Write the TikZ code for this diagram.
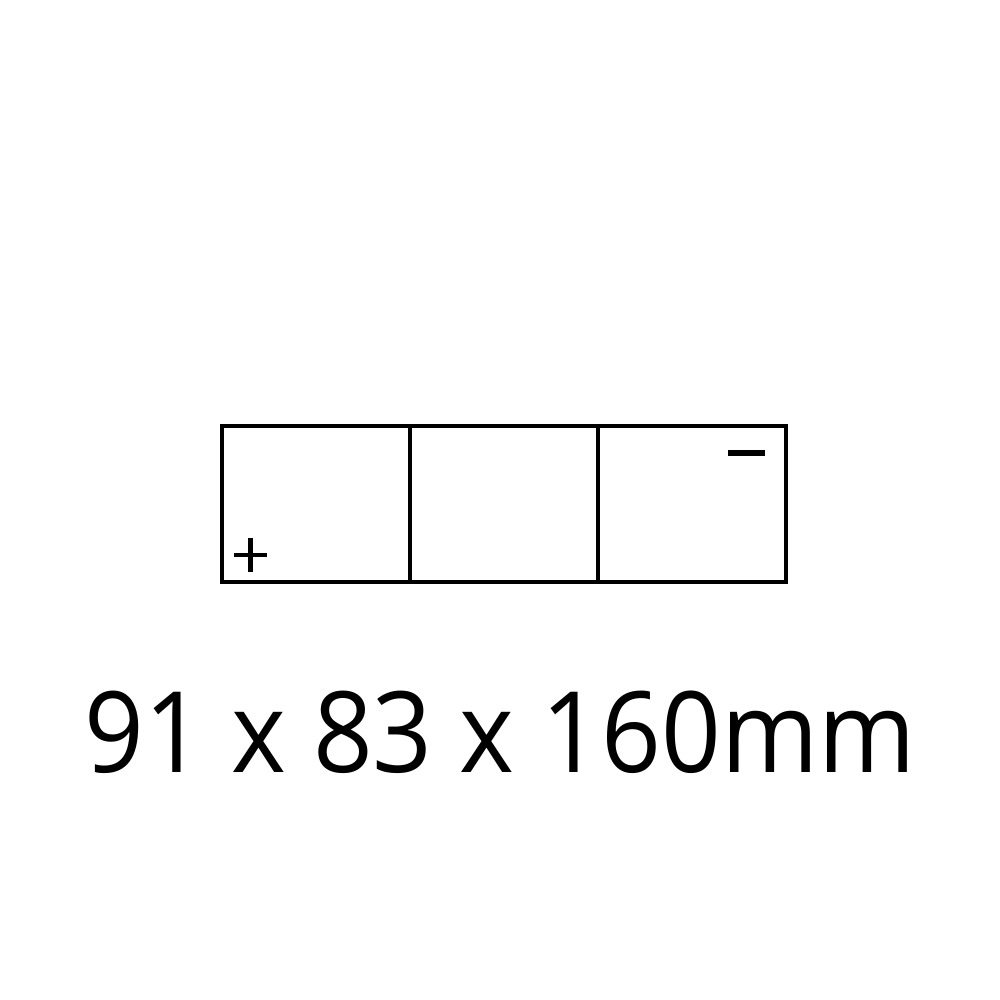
\documentclass[tikz,border=0pt]{standalone}
\usepackage{fontspec}
\setmainfont{Open Sans}
\usetikzlibrary{positioning}

\tikzset{
  cell/.style={draw, line width=1.2pt, minimum width=1.88cm, minimum height=1.56cm, inner sep=0pt, outer sep=0pt},
  pole/.style={line width=1.2pt},
}

\begin{document}
\begin{tikzpicture}

  \useasboundingbox (0,0) rectangle (10,10);

  \node[cell] (left) at (3.16, 4.96) {};
  \node[cell, right=0pt of left] (mid) {};
  \node[cell, right=0pt of mid] (right) {};

  % terminals
  \draw[pole] ([shift={(0.12,0.27)}]left.south west) -- ++(0.33,0);
  \draw[pole] ([shift={(0.285,0.1)}]left.south west) -- ++(0,0.34);
  \draw[pole, line width=1.6pt] ([shift={(-0.21,-0.27)}]right.north east) -- ++(-0.37,0);

  \node[anchor=base, xscale=0.93, font=\fontsize{32}{36}\selectfont] (size) at (5, 2.27) {91 x 83 x 160mm};

\end{tikzpicture}
\end{document}
